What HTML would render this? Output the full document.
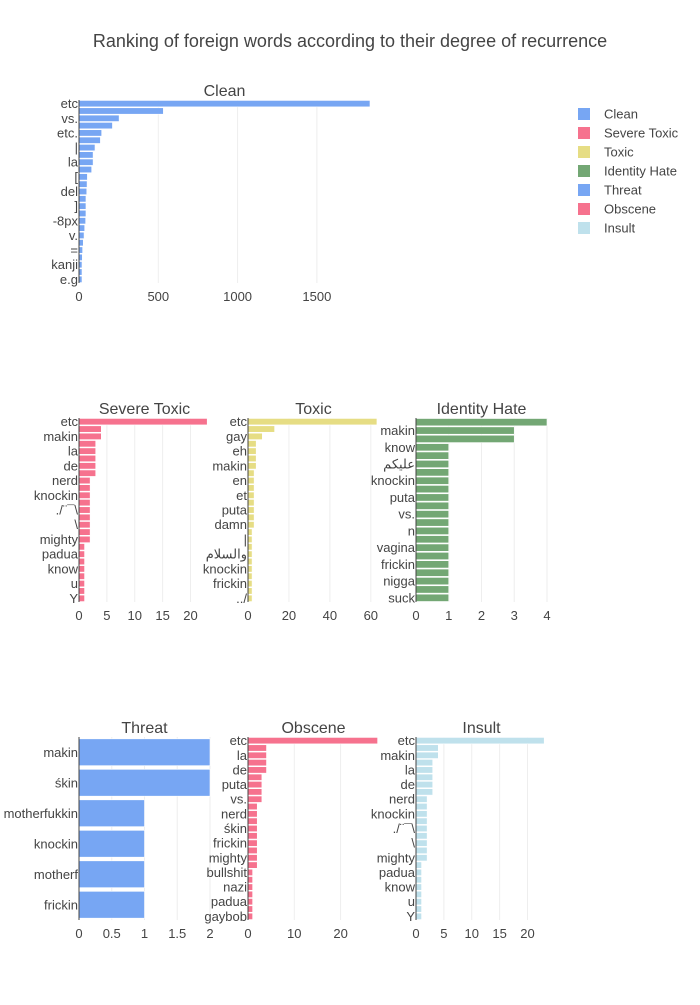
<!DOCTYPE html>
<html><head><meta charset="utf-8"><style>
body{margin:0;background:#fff;font-family:"Liberation Sans","DejaVu Sans",sans-serif;}
svg text{font-family:"Liberation Sans","DejaVu Sans",sans-serif;fill:#444;}
</style></head><body>
<svg id="chart" width="700" height="1000" xmlns="http://www.w3.org/2000/svg">
<rect width="700" height="1000" fill="#fff"/>
<text x="350" y="47" text-anchor="middle" font-size="18">Ranking of foreign words according to their degree of recurrence</text>
</svg>
<script>
const cleanLabels=["etc","","vs.","","etc.","","|","","la","","[","","del","","]","","-8px","","v.","","=","","kanji","","e.g"];
const cleanValues=[1835,532,253,211,143,135,101,89,89,80,53,51,49,44,44,44,42,36,32,27,23,21,19,19,19];
const cleanTicks=[0,500,1000,1500];
const severeLabels=["etc","","makin","","la","","de","","nerd","","knockin","","./¨¯\\","","\\","","mighty","","padua","","know","","u","","Y"];
const severeValues=[23,4,4,3,3,3,3,3,2,2,2,2,2,2,2,2,2,1,1,1,1,1,1,1,1];
const severeTicks=[0,5,10,15,20];
const toxicLabels=["etc","","gay","","eh","","makin","","en","","et","","puta","","damn","","|","","والسلام","","knockin","","frickin","","../"];
const toxicValues=[63,13,7,4,4,4,4,3,3,3,3,3,3,3,3,2,2,2,2,2,2,2,2,2,2];
const toxicTicks=[0,20,40,60];
const hateLabels=["","makin","","know","","عليكم","","knockin","","puta","","vs.","","n","","vagina","","frickin","","nigga","","suck"];
const hateValues=[4,3,3,1,1,1,1,1,1,1,1,1,1,1,1,1,1,1,1,1,1,1];
const hateTicks=[0,1,2,3,4];
const threatLabels=["makin","śkin","motherfukkin","knockin","motherf","frickin"];
const threatValues=[2,2,1,1,1,1];
const threatTicks=[0,0.5,1,1.5,2];
const obsceneLabels=["etc","","la","","de","","puta","","vs.","","nerd","","śkin","","frickin","","mighty","","bullshit","","nazi","","padua","","gaybob"];
const obsceneValues=[28,4,4,4,4,3,3,3,3,2,2,2,2,2,2,2,2,2,1,1,1,1,1,1,1];
const obsceneTicks=[0,10,20];
const insultLabels=["etc","","makin","","la","","de","","nerd","","knockin","","./¨¯\\","","\\","","mighty","","padua","","know","","u","","Y"];
const insultValues=[23,4,4,3,3,3,3,3,2,2,2,2,2,2,2,2,2,1,1,1,1,1,1,1,1];
const insultTicks=[0,5,10,15,20];

const NS="http://www.w3.org/2000/svg";
const svg=document.getElementById('chart');
function mk(tag,attrs,parent){const e=document.createElementNS(NS,tag);for(const k in attrs)e.setAttribute(k,attrs[k]);(parent||svg).appendChild(e);return e;}

function panel(key,title,labels,values,ticks,maxv,x0,x1,y0,y1,color){
  const g=mk('g',{});
  
  
  const xs=v=>x0+(v/maxv)*(x1-x0);
  ticks.forEach(t=>{
    const gx=xs(t);
    if(t>0){const l=mk('line',{x1:gx,x2:gx,y1:y0,y2:y1,stroke:'#eee','stroke-width':1},g);
      
      }
    const tx=mk('text',{x:gx,y:y1+18,'text-anchor':'middle','font-size':13},g);
    
    
    tx.textContent=t;
  });
  const n=values.length,step=(y1-y0)/n;
  values.forEach((v,i)=>{
    const cy=y0+step*(i+0.5),bh=step*0.88;
    const r=mk('rect',{x:x0,y:cy-bh/2,width:Math.max(0,xs(v)-x0),height:bh,fill:color,stroke:'#fff','stroke-width':0.6},g);
    
    
    if(labels[i]){
      const t=mk('text',{x:x0-1,y:cy+4.5,'text-anchor':'end','font-size':13},g);
      
      
      t.textContent=labels[i];
    }
  });
  const ax=mk('line',{x1:x0,x2:x0,y1:y0,y2:y1,stroke:'#444','stroke-width':1},g);
  
  
  const tt=mk('text',{x:(x0+x1)/2,y:y0-4,'text-anchor':'middle','font-size':16},g);
  
  
  tt.textContent=title;
}
const C={clean:'#77a6f3',sev:'#f6728e',tox:'#e6dd84',hate:'#73a774',threat:'#77a6f3',obs:'#f6728e',ins:'#bfe1ec'};
panel('clean','Clean',cleanLabels,cleanValues,cleanTicks,Math.max(...cleanValues),79,370,100,283,C.clean);
panel('severe-toxic','Severe Toxic',severeLabels,severeValues,severeTicks,23.5,79,210,418,602,C.sev);
panel('toxic','Toxic',toxicLabels,toxicValues,toxicTicks,64,248,379,418,602,C.tox);
panel('identity-hate','Identity Hate',hateLabels,hateValues,hateTicks,Math.max(...hateValues),416,547,418,602,C.hate);
panel('threat','Threat',threatLabels,threatValues,threatTicks,Math.max(...threatValues),79,210,737,920,C.threat);
panel('obscene','Obscene',obsceneLabels,obsceneValues,obsceneTicks,28.3,248,379,737,920,C.obs);
panel('insult','Insult',insultLabels,insultValues,insultTicks,23.5,416,547,737,920,C.ins);

const legendNames=["Clean","Severe Toxic","Toxic","Identity Hate","Threat","Obscene","Insult"];
const legendColors=[C.clean,C.sev,C.tox,C.hate,C.threat,C.obs,C.ins];
legendNames.forEach((nm,i)=>{
  const y=114+i*19;
  const g=mk('g',{});
  
  
  mk('rect',{x:578,y:y-6,width:12,height:12,fill:legendColors[i]},g);
  const t=mk('text',{x:604,y:y+4.5,'font-size':13},g);
  t.textContent=nm;
});
</script>
</body></html>
